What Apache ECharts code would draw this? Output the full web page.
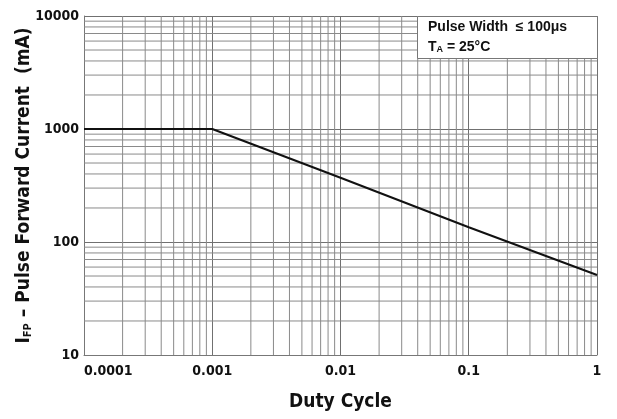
<!DOCTYPE html>
<html><head><meta charset="utf-8">
<script src="https://cdn.jsdelivr.net/npm/echarts@6/dist/echarts.min.js"></script>
<style>html,body{margin:0;padding:0;background:#fff}#c{width:617px;height:419px}</style>
</head><body><div id="c"></div>
<script>
const dutyCycle = [0.0001, 0.001, 0.01, 0.1, 1];
const currentMA = [1000, 1000, 370, 135, 51];
const xDecades = [0.0001, 0.001, 0.01, 0.1];
const yDecades = [10, 100, 1000];
const minorMultipliers = [2, 3, 4, 5, 6, 7, 8, 9];
const xMinorGrid = [];
const yMinorGrid = [];
xDecades.forEach(d => minorMultipliers.forEach(k => xMinorGrid.push(+(d * k).toPrecision(3))));
yDecades.forEach(d => minorMultipliers.forEach(k => yMinorGrid.push(d * k)));

const font = '"DejaVu Sans Condensed", "Liberation Sans", Arial, sans-serif';
const boxFont = '"Liberation Sans", Arial, sans-serif';
const gridStyle = { color: '#8a8a8a', width: 1 };

const gridSeries = [];
xMinorGrid.forEach(v => gridSeries.push({
  type: 'line', data: [[v, 10], [v, 10000]], symbol: 'none', silent: true, z: 1,
  lineStyle: gridStyle, tooltip: { show: false }
}));
yMinorGrid.forEach(v => gridSeries.push({
  type: 'line', data: [[0.0001, v], [1, v]], symbol: 'none', silent: true, z: 1,
  lineStyle: gridStyle, tooltip: { show: false }
}));

const chart = echarts.init(document.getElementById('c'));
chart.setOption({
  animation: false,
  grid: { left: 84, right: 20, top: 16, bottom: 64, containLabel: false, outerBoundsMode: 'none' },
  xAxis: {
    type: 'log', min: 0.0001, max: 1, logBase: 10,
    name: 'Duty Cycle', nameLocation: 'middle', nameGap: 38, nameMoveOverlap: false,
    nameTextStyle: { fontFamily: font, fontWeight: 'bold', fontSize: 19, color: '#111' },
    axisLine: { show: true, lineStyle: { color: '#777' } },
    axisTick: { show: false },
    axisLabel: { fontFamily: font, fontWeight: 'bold', fontSize: 14, color: '#111', margin: 9,
      alignMinLabel: 'left', formatter: v => String(+v.toPrecision(1)) },
    splitLine: { show: true, lineStyle: { color: '#707070', width: 1 } }
  },
  yAxis: {
    type: 'log', min: 10, max: 10000, logBase: 10,
    name: '{a|I}{s|FP}{a| – Pulse Forward Current  (mA)}', nameLocation: 'middle', nameGap: 50, nameRotate: 90,
    nameMoveOverlap: false,
    nameTextStyle: { rich: {
      a: { fontFamily: font, fontWeight: 'bold', fontSize: 19, color: '#111' },
      s: { fontFamily: font, fontWeight: 'bold', fontSize: 11, color: '#111', verticalAlign: 'bottom', padding: [8, 0, 0, 0] }
    } },
    axisLine: { show: true, lineStyle: { color: '#777' } },
    axisTick: { show: false },
    axisLabel: { fontFamily: font, fontWeight: 'bold', fontSize: 14, color: '#111', margin: 5,
      formatter: v => String(Math.round(v)) },
    splitLine: { show: true, lineStyle: { color: '#707070', width: 1 } }
  },
  series: gridSeries.concat([
    {
      type: 'line', data: dutyCycle.map((d, i) => [d, currentMA[i]]),
      symbol: 'none', lineStyle: { color: '#111', width: 2 }, z: 5
    }
  ]),
  graphic: [
    { type: 'rect', left: 417, top: 16, z: 100, shape: { width: 180, height: 42 },
      style: { fill: '#fff', stroke: '#777', lineWidth: 1 } },
    { type: 'text', left: 428, top: 20, z: 101,
      style: { text: 'Pulse Width  ≤ 100μs', font: 'bold 14px ' + boxFont, fill: '#111' } },
    { type: 'text', left: 428, top: 40, z: 101,
      style: { text: '{a|T}{s|A}{a| = 25°C}', rich: {
        a: { fontFamily: boxFont, fontWeight: 'bold', fontSize: 14, fill: '#111' },
        s: { fontFamily: boxFont, fontWeight: 'bold', fontSize: 9, fill: '#111', verticalAlign: 'bottom', padding: [6, 0, 0, 0] }
      } } }
  ]
});
</script></body></html>
